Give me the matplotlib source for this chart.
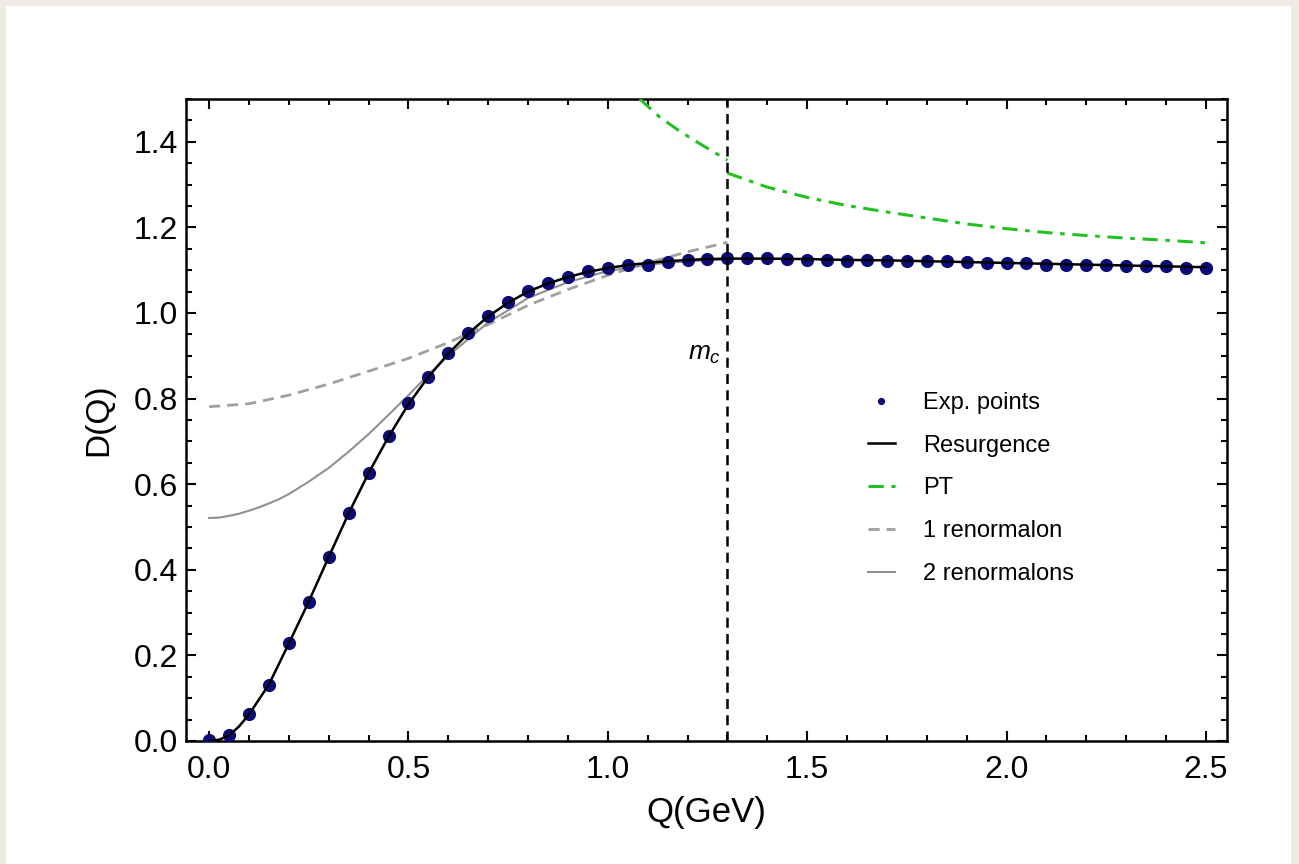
import numpy as np
import matplotlib
matplotlib.use('Agg')
from matplotlib import pyplot as plt
from matplotlib.patches import Rectangle
from matplotlib.ticker import MultipleLocator

plt.rcParams['font.family'] = ['Liberation Sans', 'DejaVu Sans']
plt.rcParams['mathtext.fontset'] = 'custom'
plt.rcParams['mathtext.it'] = 'Liberation Sans:italic'

# experimental points
Q_exp = [0.00, 0.05, 0.10, 0.15, 0.20, 0.25, 0.30, 0.35, 0.40, 0.45,
         0.50, 0.55, 0.60, 0.65, 0.70, 0.75, 0.80, 0.85, 0.90, 0.95,
         1.00, 1.05, 1.10, 1.15, 1.20, 1.25, 1.30, 1.35, 1.40, 1.45,
         1.50, 1.55, 1.60, 1.65, 1.70, 1.75, 1.80, 1.85, 1.90, 1.95,
         2.00, 2.05, 2.10, 2.15, 2.20, 2.25, 2.30, 2.35, 2.40, 2.45, 2.50]
D_exp = [0.003, 0.014, 0.063, 0.132, 0.228, 0.325, 0.430, 0.532, 0.626, 0.712,
         0.789, 0.851, 0.906, 0.953, 0.994, 1.026, 1.051, 1.070, 1.085, 1.097,
         1.106, 1.111, 1.113, 1.120, 1.123, 1.125, 1.129, 1.128, 1.128, 1.126,
         1.124, 1.124, 1.122, 1.124, 1.122, 1.122, 1.122, 1.122, 1.119, 1.116,
         1.117, 1.116, 1.112, 1.112, 1.113, 1.113, 1.110, 1.110, 1.110, 1.106, 1.106]

# resurgence curve
Q_res = [0.0, 0.025, 0.05, 0.075, 0.10, 0.15, 0.20, 0.25, 0.30, 0.35, 0.40, 0.45,
         0.50, 0.55, 0.60, 0.65, 0.70, 0.75, 0.80, 0.85, 0.90, 0.95, 1.00, 1.05,
         1.10, 1.15, 1.20, 1.25, 1.30, 1.40, 1.50, 1.60, 1.70, 1.80, 1.90, 2.00,
         2.10, 2.20, 2.30, 2.40, 2.50]
D_res = [0.000, 0.003, 0.013, 0.034, 0.062, 0.132, 0.228, 0.326, 0.430, 0.532, 0.626, 0.711,
         0.787, 0.851, 0.905, 0.952, 0.992, 1.024, 1.050, 1.069, 1.084, 1.096, 1.105, 1.112,
         1.117, 1.121, 1.124, 1.126, 1.127, 1.127, 1.126, 1.124, 1.123, 1.121, 1.119, 1.117,
         1.115, 1.113, 1.111, 1.109, 1.107]

# perturbation theory (jump at m_c)
Q_pt1 = [1.08, 1.13, 1.18, 1.23, 1.30]
D_pt1 = [1.500, 1.458, 1.425, 1.396, 1.357]
Q_pt2 = [1.30, 1.40, 1.50, 1.60, 1.70, 1.80, 1.90, 2.00, 2.10, 2.20, 2.30, 2.40, 2.50]
D_pt2 = [1.327, 1.294, 1.270, 1.251, 1.236, 1.222, 1.208, 1.197, 1.188, 1.181, 1.175, 1.170, 1.164]

# 1 renormalon
Q_r1 = [0.0, 0.1, 0.2, 0.3, 0.4, 0.5, 0.6, 0.7, 0.8, 0.9, 1.0, 1.1, 1.2, 1.3]
D_r1 = [0.781, 0.788, 0.808, 0.834, 0.864, 0.894, 0.931, 0.973, 1.018, 1.055, 1.088, 1.117, 1.143, 1.165]

# 2 renormalons
Q_r2 = [0.0, 0.025, 0.05, 0.075, 0.10, 0.125, 0.15, 0.175, 0.20, 0.25, 0.30, 0.35, 0.40, 0.45, 0.50, 0.55,
        0.60, 0.70, 0.80, 0.90, 1.00, 1.10, 1.20, 1.30]
D_r2 = [0.521, 0.522, 0.526, 0.531, 0.538, 0.546, 0.555, 0.565, 0.577, 0.606, 0.638, 0.676, 0.717, 0.762, 0.808, 0.856,
        0.900, 0.978, 1.035, 1.072, 1.098, 1.113, 1.121, 1.125]

m_c = 1.3

W, H = 1299, 864
my_dpi = 100
fig = plt.figure(figsize=(W/my_dpi, H/my_dpi), dpi=my_dpi)
fig.patch.set_facecolor('#eeebe5')
fig.patches.append(Rectangle((6/W, 0), (1291-6)/W, (H-6)/H, transform=fig.transFigure,
                             facecolor='white', edgecolor='none', zorder=-10))

ax = fig.add_axes([186/W, 1-741/H, (1227-186)/W, (741-99)/H])
ax.set_facecolor('white')

ax.plot(Q_r1, D_r1, '--', color='#a0a0a0', lw=2.0, dashes=(4, 2.5), label='1 renormalon', zorder=2)
ax.plot(Q_r2, D_r2, '-', color='#909090', lw=1.5, label='2 renormalons', zorder=2,
        solid_joinstyle='round')
ax.plot(Q_pt1, D_pt1, color='#22c022', lw=2.2, dashes=(5, 2.5, 1.5, 2.5), label='PT', zorder=3)
ax.plot(Q_pt2, D_pt2, color='#22c022', lw=2.2, dashes=(5, 2.5, 1.5, 2.5), zorder=3)
ax.plot(Q_exp, D_exp, 'o', color='#0c0c78', ms=9.5, mec='none', label='Exp. points', zorder=4)
ax.plot(Q_res, D_res, '-', color='black', lw=1.8, label='Resurgence', zorder=5,
        solid_joinstyle='round')
ax.axvline(m_c, color='black', lw=1.8, dashes=(4, 2.5), zorder=6)
ax.text(1.285, 0.905, '$m_c$', fontsize=19, ha='right', va='center')

ax.set_xlim(-0.058, 2.553)
ax.set_ylim(0, 1.5)
ax.xaxis.set_major_locator(MultipleLocator(0.5))
ax.xaxis.set_minor_locator(MultipleLocator(0.1))
ax.yaxis.set_major_locator(MultipleLocator(0.2))
ax.yaxis.set_minor_locator(MultipleLocator(0.05))
ax.xaxis.set_major_formatter(plt.FuncFormatter(lambda v, p: '%.1f' % v))
ax.yaxis.set_major_formatter(plt.FuncFormatter(lambda v, p: '%.1f' % v))
ax.tick_params(which='both', direction='in', top=True, right=True, labelsize=23, width=1.5)
ax.tick_params(axis='x', pad=10)
ax.tick_params(axis='y', pad=6)
ax.tick_params(which='major', length=7)
ax.tick_params(which='minor', length=4)
for s in ax.spines.values():
    s.set_linewidth(1.8)

ax.set_xlabel('Q(GeV)', fontsize=25, labelpad=8)
ax.set_ylabel('D(Q)', fontsize=24, labelpad=14)

h, lab = ax.get_legend_handles_labels()
order = ['Exp. points', 'Resurgence', 'PT', '1 renormalon', '2 renormalons']
hs = [h[lab.index(o)] for o in order]
ax.legend(hs, order, loc='upper left', bbox_to_anchor=(856/W, 1-380/H),
          bbox_transform=fig.transFigure, frameon=False, fontsize=17,
          handlelength=1.15, handletextpad=1.2, labelspacing=0.88,
          markerscale=0.55, borderpad=0)

fig.savefig('out.png', dpi=my_dpi, facecolor=fig.get_facecolor())
